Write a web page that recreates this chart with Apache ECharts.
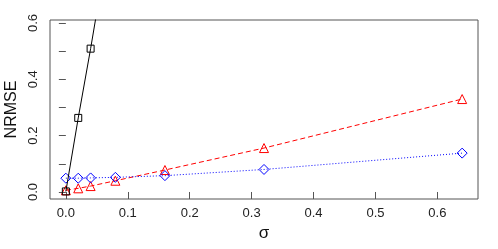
<!DOCTYPE html>
<html><head><meta charset="utf-8">
<script src="https://cdn.jsdelivr.net/npm/echarts@6/dist/echarts.min.js"></script>
<style>html,body{margin:0;padding:0;background:#fff}#c{width:498px;height:249px}</style>
</head><body><div id="c"></div>
<script>
var sigma = [0, 0.02, 0.04, 0.08, 0.16, 0.32, 0.64];
var blackVals = [0.002, 0.263, 0.509, 1.03];
var redVals = [0.006, 0.013, 0.021, 0.04, 0.078, 0.156, 0.33];
var blueVals = [0.049, 0.049, 0.05, 0.052, 0.058, 0.08, 0.138];
var xTicks = [0, 0.1, 0.2, 0.3, 0.4, 0.5, 0.6];
var yTicks = [0, 0.1, 0.2, 0.3, 0.4, 0.5, 0.6];
var yLabels = [0, 0.2, 0.4, 0.6];

function pairs(xs, ys){ return ys.map(function(v,i){ return [xs[i], v]; }); }
var font = "'Liberation Sans', Arial, sans-serif";
var chart = echarts.init(document.getElementById('c'));
chart.setOption({
  animation: false,
  grid: {left: 50, top: 20, right: 20, bottom: 50, show: true, borderColor: '#555', borderWidth: 1,
         backgroundColor: 'transparent', containLabel: false, outerBoundsMode: 'none'},
  xAxis: {
    type: 'value', min: -0.0256, max: 0.6656,
    name: 'σ', nameLocation: 'middle', nameGap: 25,
    nameTextStyle: {fontSize: 17, color: '#111', fontFamily: font},
    axisLine: {show: false},
    axisTick: {show: true, length: 7, inside: false, customValues: xTicks, lineStyle: {color: '#555'}},
    axisLabel: {customValues: xTicks, margin: 8, fontSize: 13, color: '#222', fontFamily: font,
      formatter: function(v){ return v.toFixed(1); }},
    splitLine: {show: false}
  },
  yAxis: {
    type: 'value', min: -0.0249, max: 0.6107,
    name: 'NRMSE', nameLocation: 'middle', nameGap: 28,
    nameTextStyle: {fontSize: 16, color: '#111', fontFamily: font},
    axisLine: {show: false},
    axisTick: {show: true, length: 7, inside: false, customValues: yTicks, lineStyle: {color: '#555'}},
    axisLabel: {customValues: yLabels, rotate: 90, margin: 10, fontSize: 13, color: '#222', fontFamily: font,
      formatter: function(v){ return v.toFixed(1); }},
    splitLine: {show: false}
  },
  series: [
    {type: 'line', data: pairs(sigma, blackVals), clip: true, symbol: 'rect', symbolSize: 7,
     lineStyle: {color: '#000', width: 1}, itemStyle: {color: 'rgba(0,0,0,0)', borderColor: '#000', borderWidth: 1}, z: 3},
    {type: 'line', data: pairs(sigma, redVals), clip: true, symbol: 'triangle', symbolSize: 9,
     lineStyle: {color: '#ff0000', width: 1, type: [5, 3]}, itemStyle: {color: 'rgba(0,0,0,0)', borderColor: '#ff0000', borderWidth: 1}, z: 2},
    {type: 'line', data: pairs(sigma, blueVals), clip: true, symbol: 'diamond', symbolSize: 10,
     lineStyle: {color: '#0000ff', width: 1, type: [1, 2]}, itemStyle: {color: 'rgba(0,0,0,0)', borderColor: '#0000ff', borderWidth: 1}, z: 2}
  ]
});
</script></body></html>
